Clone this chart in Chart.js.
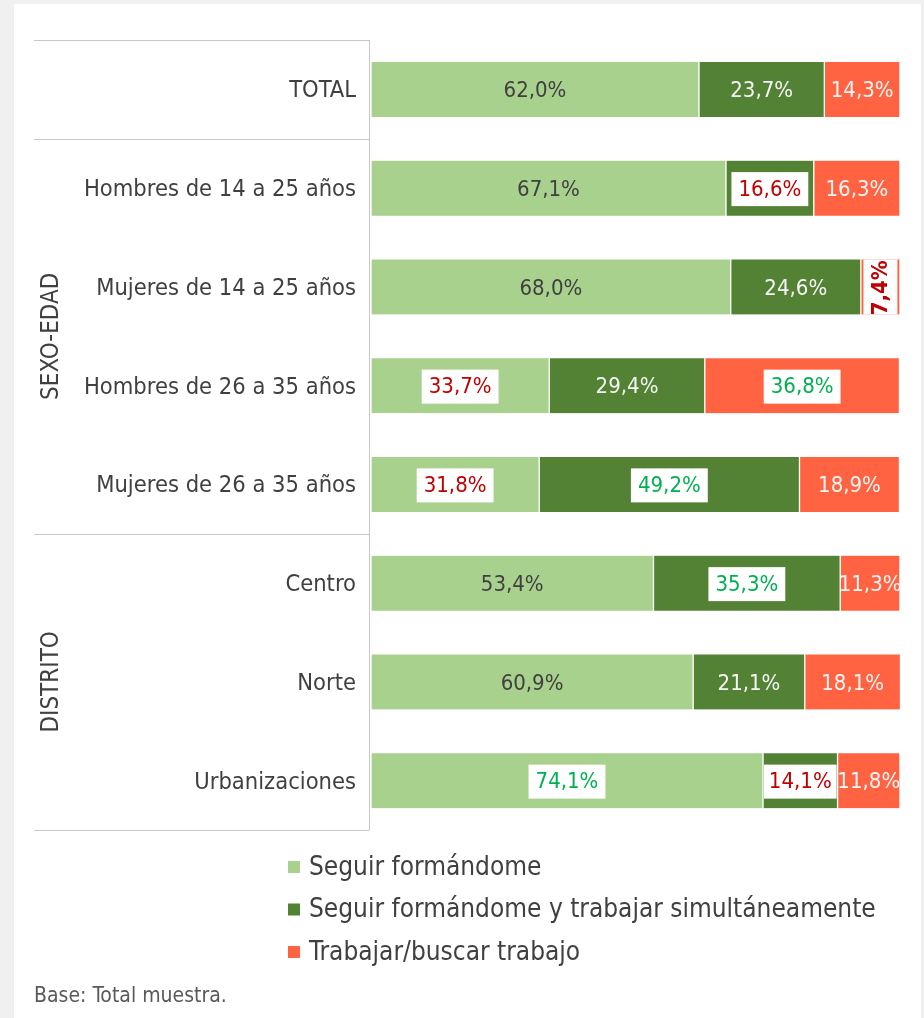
<!DOCTYPE html>
<html>
<head>
<meta charset="utf-8">
<script src="https://cdn.jsdelivr.net/npm/chart.js@4.4.1/dist/chart.umd.min.js"></script>
<style>
  html, body { margin: 0; padding: 0; background: #f0f0f0; }
  #panel { position: absolute; left: 14px; top: 4px; width: 907px; height: 1014px; background: #fff; }
  #myChart { position: absolute; left: 0; top: 0; }
</style>
</head>
<body>
<div id="panel"></div>
<canvas id="myChart" width="924" height="1018"></canvas>
<script>
// data
const categories = ['TOTAL', 'Hombres de 14 a 25 años', 'Mujeres de 14 a 25 años', 'Hombres de 26 a 35 años',
  'Mujeres de 26 a 35 años', 'Centro', 'Norte', 'Urbanizaciones'];
const groupOf = ['', 'SEXO-EDAD', 'SEXO-EDAD', 'SEXO-EDAD', 'SEXO-EDAD', 'DISTRITO', 'DISTRITO', 'DISTRITO'];
const seguir = [62.0, 67.1, 68.0, 33.7, 31.8, 53.4, 60.9, 74.1];
const simultaneo = [23.7, 16.6, 24.6, 29.4, 49.2, 35.3, 21.1, 14.1];
const trabajar = [14.3, 16.3, 7.4, 36.8, 18.9, 11.3, 18.1, 11.8];
const seriesNames = ['Seguir formándome', 'Seguir formándome y trabajar simultáneamente', 'Trabajar/buscar trabajo'];
const note = 'Base: Total muestra.';

// label look per segment (dark / white text, or white box with red / green text)
const labelStyles = [
  ['dark', 'dark', 'dark', 'red', 'red', 'dark', 'dark', 'green'],
  ['white', 'red', 'white', 'white', 'green', 'green', 'white', 'red'],
  ['white', 'white', 'redUp', 'green', 'white', 'white', 'white', 'white']
];
const textColors = { dark: '#404040', white: '#f5f5f5', red: '#c00000', redUp: '#c00000', green: '#00b050' };
const FONT = 'DejaVu Sans Condensed';
const GREY = '#404040';

const extras = {
  id: 'extras',
  afterDatasetsDraw(chart) {
    const ctx = chart.ctx;
    ctx.save();
    ctx.textAlign = 'center';
    ctx.textBaseline = 'middle';
    chart.data.datasets.forEach((ds, i) => {
      chart.getDatasetMeta(i).data.forEach((bar, j) => {
        const st = labelStyles[i][j];
        const txt = ds.data[j].toFixed(1).replace('.', ',') + '%';
        const x0 = Math.min(bar.base, bar.x), x1 = Math.max(bar.base, bar.x);
        const y0 = bar.y - bar.height / 2;
        const cx = (x0 + x1) / 2, cy = bar.y + 1;
        ctx.font = (st === 'redUp' ? 'bold ' : '') + '22px ' + FONT;
        const tw = ctx.measureText(txt).width;
        if (st === 'red' || st === 'green' || st === 'redUp') {
          ctx.save();
          ctx.beginPath();
          ctx.rect(x0 + 1, y0, x1 - x0 - 2, bar.height);
          ctx.clip();
          ctx.fillStyle = '#ffffff';
          if (st === 'redUp') ctx.fillRect(cx - 17, cy - (tw + 14) / 2, 34, tw + 14);
          else ctx.fillRect(cx - (tw + 14) / 2, cy - 17, tw + 14, 34);
          ctx.restore();
        }
        ctx.fillStyle = textColors[st];
        if (st === 'redUp') {
          ctx.save();
          ctx.translate(cx + 1, cy);
          ctx.rotate(-Math.PI / 2);
          ctx.fillText(txt, 0, 0);
          ctx.restore();
        } else {
          ctx.fillText(txt, cx, cy + 1);
        }
      });
    });
    ctx.restore();
  },
  afterDraw(chart) {
    const ctx = chart.ctx;
    const ys = chart.scales.y;
    const area = chart.chartArea;
    const step = ys.getPixelForValue(1) - ys.getPixelForValue(0);
    const lineLeft = 34, lineRight = area.left - 2;
    ctx.save();
    // group frame
    ctx.strokeStyle = '#c8c8c8';
    ctx.lineWidth = 1;
    const hline = y => {
      ctx.beginPath();
      ctx.moveTo(lineLeft, Math.round(y) + 0.5);
      ctx.lineTo(lineRight, Math.round(y) + 0.5);
      ctx.stroke();
    };
    let start = 0;
    hline(ys.getPixelForValue(0) - step / 2);
    for (let i = 1; i <= groupOf.length; i++) {
      if (i === groupOf.length || groupOf[i] !== groupOf[start]) {
        const top = ys.getPixelForValue(start) - step / 2;
        const bottom = ys.getPixelForValue(i - 1) + step / 2;
        hline(bottom);
        if (groupOf[start]) {
          ctx.save();
          ctx.translate(52, (top + bottom) / 2);
          ctx.rotate(-Math.PI / 2);
          ctx.font = '24px ' + FONT;
          ctx.fillStyle = GREY;
          ctx.textAlign = 'center';
          ctx.textBaseline = 'middle';
          ctx.fillText(groupOf[start], 0, 0);
          ctx.restore();
        }
        start = i;
      }
    }
    ctx.beginPath();
    ctx.moveTo(lineRight + 0.5, ys.getPixelForValue(0) - step / 2);
    ctx.lineTo(lineRight + 0.5, ys.getPixelForValue(groupOf.length - 1) + step / 2);
    ctx.stroke();

    // legend
    ctx.font = '26px ' + FONT;
    ctx.textAlign = 'left';
    ctx.textBaseline = 'middle';
    chart.data.datasets.forEach((ds, i) => {
      const y = area.bottom + 37 + i * 42.5;
      ctx.fillStyle = ds.backgroundColor;
      ctx.fillRect(288, y - 6, 12, 12);
      ctx.fillStyle = GREY;
      ctx.fillText(ds.label, 309, y + 1);
    });

    // note
    ctx.font = '21px ' + FONT;
    ctx.fillStyle = '#595959';
    ctx.fillText(note, 34, 997);
    ctx.restore();
  }
};

const myChart = new Chart('myChart', {
  type: 'bar',
  data: {
    labels: categories,
    datasets: [
      { label: seriesNames[0], data: seguir, backgroundColor: '#a9d18e' },
      { label: seriesNames[1], data: simultaneo, backgroundColor: '#548235' },
      { label: seriesNames[2], data: trabajar, backgroundColor: '#ff6342' }
    ]
  },
  options: {
    indexAxis: 'y',
    responsive: false,
    animation: false,
    barThickness: 55,
    datasets: {
      bar: {
        borderWidth: { left: 1, right: 1, top: 0, bottom: 0 },
        borderColor: '#ffffff',
        borderSkipped: false
      }
    },
    layout: { padding: { left: 0, right: 24, top: 40, bottom: 188 } },
    scales: {
      x: { stacked: true, min: 0, max: 100, display: false },
      y: {
        stacked: true,
        grid: { display: false, drawTicks: false },
        border: { display: false },
        ticks: { padding: 15, labelOffset: 2, color: GREY, font: { family: FONT, size: 23.5 } },
        afterFit(scale) { scale.width = 371; }
      }
    },
    plugins: { legend: { display: false }, tooltip: { enabled: false } }
  },
  plugins: [extras]
});
</script>
</body>
</html>
